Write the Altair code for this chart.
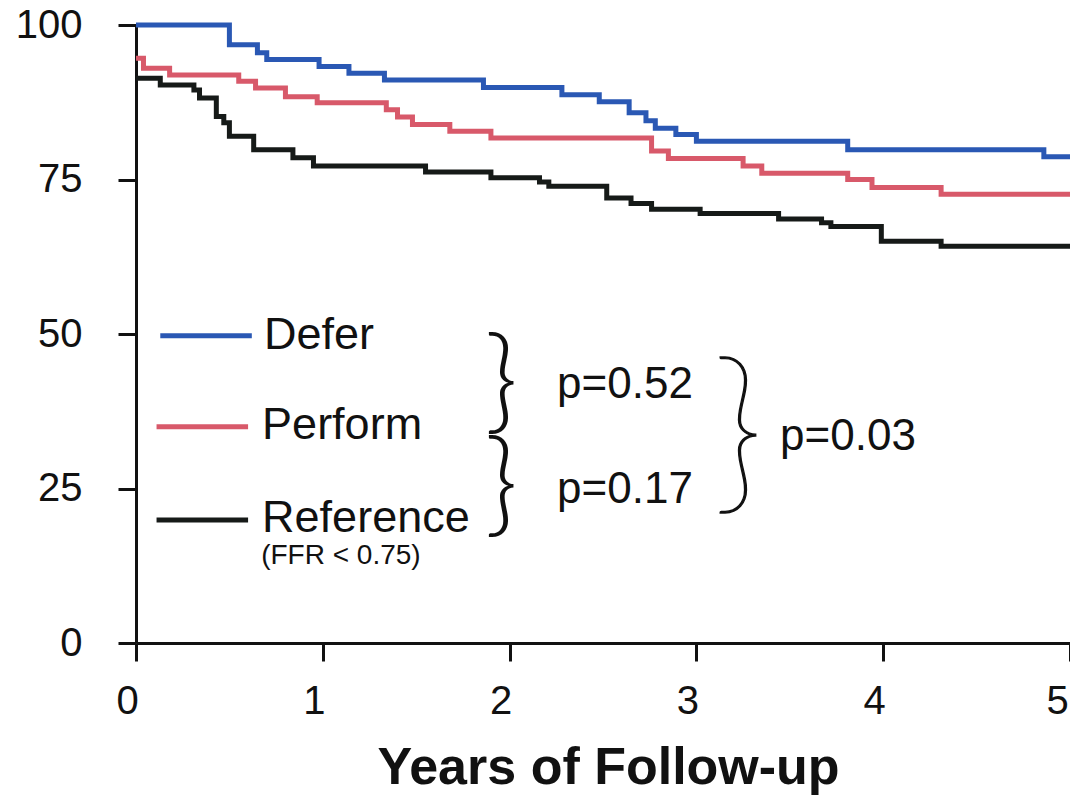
import altair as alt
import pandas as pd

# ---- survival curves (years, % event-free) ----
defer_t = [0, 0.50, 0.65, 0.70, 0.98, 1.14, 1.33, 1.86, 2.28, 2.48, 2.64, 2.73, 2.78, 2.89, 3.00, 3.81, 4.86, 5.0]
defer_v = [100, 96.8, 95.5, 94.4, 93.3, 92.2, 91.1, 89.9, 88.7, 87.6, 85.8, 84.5, 83.3, 82.3, 81.2, 79.8, 78.7, 78.7]

perform_t = [0, 0.04, 0.18, 0.55, 0.64, 0.80, 0.97, 1.34, 1.40, 1.48, 1.68, 1.90, 2.76, 2.85, 3.25, 3.35, 3.81, 3.94, 4.31, 5.0]
perform_v = [94.6, 93.0, 91.9, 90.9, 89.8, 88.4, 87.4, 86.3, 85.1, 83.9, 82.8, 81.7, 79.6, 78.4, 77.2, 76.0, 75.0, 73.7, 72.6, 72.6]

ref_t = [0, 0.13, 0.31, 0.34, 0.43, 0.47, 0.50, 0.63, 0.84, 0.95, 1.55, 1.90, 2.16, 2.21, 2.52, 2.65, 2.76, 3.02, 3.44, 3.67, 3.72, 3.99, 4.31, 5.0]
ref_v = [91.4, 90.3, 89.5, 88.2, 85.2, 84.2, 82.0, 79.8, 78.5, 77.2, 76.2, 75.3, 74.6, 73.9, 72.0, 71.1, 70.2, 69.5, 68.6, 68.0, 67.4, 65.0, 64.2, 64.2]

series_names = ["Defer", "Perform", "Reference"]
series_colors = ["#2a58b4", "#d8596a", "#161a18"]

x_ticks = [0, 1, 2, 3, 4, 5]
y_ticks = [0, 25, 50, 75, 100]

# ---- legend / annotation texts ----
legend_labels = ["Defer", "Perform", "Reference"]
legend_sub = "(FFR < 0.75)"
p_labels = ["p=0.52", "p=0.17", "p=0.03"]

FONT = "Liberation Sans"

rows = []
for name, ts, vs in [("Defer", defer_t, defer_v), ("Perform", perform_t, perform_v), ("Reference", ref_t, ref_v)]:
    for t, v in zip(ts, vs):
        rows.append({"t": t, "v": v, "group": name})
curves = pd.DataFrame(rows)

xs = alt.Scale(domain=[0, 5], nice=False)
ys = alt.Scale(domain=[0, 100], nice=False)
cs = alt.Scale(domain=series_names, range=series_colors)

lines = alt.Chart(curves).mark_line(interpolate="step-after", strokeWidth=5).encode(
    x=alt.X("t:Q", scale=xs, axis=alt.Axis(
        values=x_ticks, format="d", tickSize=18, tickWidth=3, tickColor="#111", domainWidth=3, domainColor="#111",
        labelFont=FONT, labelFontSize=40, labelColor="#111", labelPadding=20,
        labelOffset={"condition": {"test": "datum.value == 5", "value": -13}, "value": -9},
        labelFlush=False, labelOverlap=False, grid=False,
        title="Years of Follow-up", titleFont=FONT, titleFontSize=52, titleFontWeight="bold", titleColor="#111",
        titleBaseline="alphabetic", titleY=140, titleX=472)),
    y=alt.Y("v:Q", scale=ys, axis=alt.Axis(
        values=y_ticks, tickSize=18, tickWidth=3, tickColor="#111", domainWidth=3, domainColor="#111",
        labelFont=FONT, labelFontSize=40, labelColor="#111", labelPadding=36, grid=False, title=None,
        labelFlush=False, labelOverlap=False)),
    color=alt.Color("group:N", scale=cs, legend=None),
    detail="group:N",
)

# legend line samples
leg_df = pd.DataFrame({
    "group": legend_labels,
    "x0": [0.13, 0.11, 0.11],
    "x1": [0.62, 0.60, 0.60],
    "y": [49.7, 35.0, 19.9],
})
leg_lines = alt.Chart(leg_df).mark_rule(strokeWidth=5).encode(
    x=alt.X("x0:Q", scale=xs), x2="x1:Q", y=alt.Y("y:Q", scale=ys),
    color=alt.Color("group:N", scale=cs, legend=None),
)

leg_text_df = pd.DataFrame({
    "text": legend_labels,
    "x": [0.685, 0.675, 0.675],
    "y": [49.9, 35.2, 20.3],
})
leg_text = alt.Chart(leg_text_df).mark_text(
    align="left", baseline="middle", font=FONT, fontSize=45, color="#111"
).encode(x=alt.X("x:Q", scale=xs), y=alt.Y("y:Q", scale=ys), text="text:N")

sub_text = alt.Chart(pd.DataFrame({"text": [legend_sub], "x": [0.67], "y": [14.0]})).mark_text(
    align="left", baseline="middle", font=FONT, fontSize=28, color="#111"
).encode(x=alt.X("x:Q", scale=xs), y=alt.Y("y:Q", scale=ys), text="text:N")

p_df = pd.DataFrame({
    "text": p_labels,
    "x": [2.254, 2.254, 3.448],
    "y": [41.8, 24.8, 33.3],
})
p_text = alt.Chart(p_df).mark_text(
    align="left", baseline="middle", font=FONT, fontSize=44, color="#111"
).encode(x=alt.X("x:Q", scale=xs), y=alt.Y("y:Q", scale=ys), text="text:N")

brace_small = alt.Chart(pd.DataFrame({"text": ["}", "}"], "x": [1.955, 1.955], "y": [41.7, 25.1]})).mark_text(
    align="center", baseline="middle", font="Lato", fontWeight=300, fontSize=114, color="#111"
).encode(x=alt.X("x:Q", scale=xs), y=alt.Y("y:Q", scale=ys), text="text:N")

brace_big = alt.Chart(pd.DataFrame({"text": ["}"], "x": [3.225], "y": [33.2]})).mark_text(
    align="center", baseline="middle", font="Lato", fontWeight=200, fontSize=178, color="#111",
    stroke="#111", strokeWidth=1.3
).encode(x=alt.X("x:Q", scale=xs), y=alt.Y("y:Q", scale=ys), text="text:N")

chart = alt.layer(lines, leg_lines, leg_text, sub_text, p_text, brace_small, brace_big).properties(
    width=934, height=618,
    autosize=alt.AutoSizeParams(type="none"),
    padding={"left": 128, "top": 17, "right": 0, "bottom": 152},
    background="white",
).configure_view(stroke=None)

chart.save("out.html", embed_options={"renderer": "svg", "actions": False})
